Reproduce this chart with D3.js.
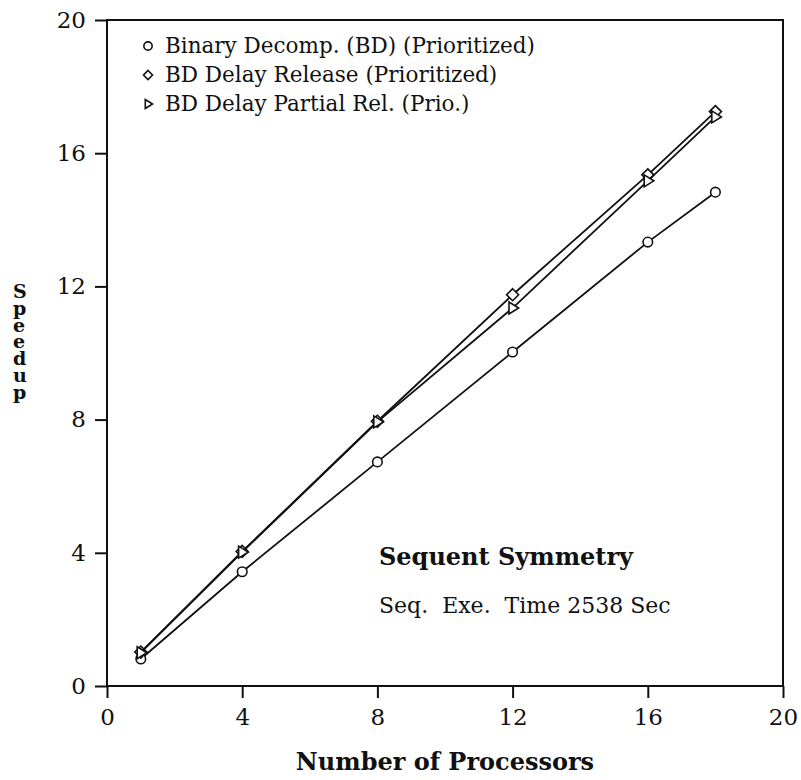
<!DOCTYPE html>
<html>
<head>
<meta charset="utf-8">
<script src="https://cdnjs.cloudflare.com/ajax/libs/d3/7.8.5/d3.min.js"></script>
<style>
  body { margin: 0; background: #fff; }
  svg text { font-family: "DejaVu Serif", "Liberation Serif", serif; fill: #111; }
</style>
</head>
<body>
<svg id="chart"></svg>
<script>
const width = 801;
const height = 780;

// processors on the x axis
const processors = [1, 4, 8, 12, 16, 18];

// speedup values
const bdPrio = [0.81, 3.43, 6.73, 10.03, 13.33, 14.83];
const bdDelayRelease = [1.02, 4.04, 7.95, 11.75, 15.35, 17.25];
const bdDelayPartial = [1.0, 4.02, 7.93, 11.35, 15.17, 17.09];

const seriesNames = [
  "Binary Decomp. (BD) (Prioritized)",
  "BD Delay Release (Prioritized)",
  "BD Delay Partial Rel. (Prio.)"
];
const seriesSymbols = ["circle", "diamond", "triangle"];

const xTicks = [0, 4, 8, 12, 16, 20];
const yTicks = [0, 4, 8, 12, 16, 20];

const margin = { top: 20, right: 18, bottom: 94, left: 107 };

const svg = d3.select("#chart")
  .attr("width", width)
  .attr("height", height);

const x = d3.scaleLinear().domain([0, 20]).range([margin.left, width - margin.right]);
const y = d3.scaleLinear().domain([0, 20]).range([height - margin.bottom, margin.top]);

// frame
svg.append("rect")
  .attr("x", x(0))
  .attr("y", y(20))
  .attr("width", x(20) - x(0))
  .attr("height", y(0) - y(20))
  .attr("fill", "none")
  .attr("stroke", "#111")
  .attr("stroke-width", 2);

const xAxis = svg.append("g")
  .attr("transform", `translate(0,${y(0)})`)
  .call(d3.axisBottom(x).tickValues(xTicks).tickSize(12).tickPadding(11));

const yAxis = svg.append("g")
  .attr("transform", `translate(${x(0)},0)`)
  .call(d3.axisLeft(y).tickValues(yTicks).tickSize(12).tickPadding(9));

[xAxis, yAxis].forEach(g => {
  g.select(".domain").remove();
  g.selectAll("line").attr("stroke", "#111").attr("stroke-width", 2);
  g.selectAll("text")
    .style("font-family", "DejaVu Serif, serif")
    .style("font-size", "23px")
    .attr("fill", "#111");
});

// axis titles
svg.append("text")
  .attr("x", (x(0) + x(20)) / 2)
  .attr("y", 770)
  .attr("text-anchor", "middle")
  .style("font-size", "24px")
  .style("font-weight", "bold")
  .text("Number of Processors");

// letters stacked one under another: run the line downwards, turn each glyph back upright
const yTitle = "Speedup";
svg.append("text")
  .attr("transform", "translate(13,298) rotate(90)")
  .attr("x", d3.range(yTitle.length).map(i => i * 16.8).join(" "))
  .attr("y", 0)
  .attr("rotate", -90)
  .style("font-size", "19px")
  .style("font-weight", "bold")
  .text(yTitle);

// symbols
function symbolPath(type, size) {
  if (type === "circle") return d3.symbol().type(d3.symbolCircle).size(size * 12)();
  if (type === "diamond") {
    const s = size;
    return `M0,${-s}L${s},0L0,${s}L${-s},0Z`;
  }
  const s = size;
  return `M${-s * 0.6},${-s}L${s},0L${-s * 0.6},${s}Z`;
}

const allSeries = [bdPrio, bdDelayRelease, bdDelayPartial];

const line = d3.line()
  .x((d, i) => x(processors[i]))
  .y(d => y(d));

allSeries.forEach((vals, k) => {
  svg.append("path")
    .datum(vals)
    .attr("d", line)
    .attr("fill", "none")
    .attr("stroke", "#111")
    .attr("stroke-width", 1.8);

  svg.append("g")
    .selectAll("path")
    .data(vals)
    .join("path")
    .attr("transform", (d, i) => `translate(${x(processors[i])},${y(d)})`)
    .attr("d", symbolPath(seriesSymbols[k], 6))
    .attr("fill", "#fff")
    .attr("stroke", "#111")
    .attr("stroke-width", 1.6);
});

// legend
const legend = svg.append("g");
seriesNames.forEach((name, k) => {
  const ly = 46 + k * 29;
  legend.append("path")
    .attr("transform", `translate(148,${ly})`)
    .attr("d", symbolPath(seriesSymbols[k], 4.5))
    .attr("fill", "#fff")
    .attr("stroke", "#111")
    .attr("stroke-width", 1.6);
  legend.append("text")
    .attr("x", 165)
    .attr("y", ly + 7)
    .style("font-size", "21.5px")
    .text(name);
});

// annotation
svg.append("text")
  .attr("x", 379)
  .attr("y", 565)
  .style("font-size", "24px")
  .style("font-weight", "bold")
  .text("Sequent Symmetry");

svg.append("text")
  .attr("x", 379)
  .attr("y", 613)
  .style("font-size", "22px")
  .style("white-space", "pre")
  .text("Seq.  Exe.  Time 2538 Sec");
</script>
</body>
</html>
